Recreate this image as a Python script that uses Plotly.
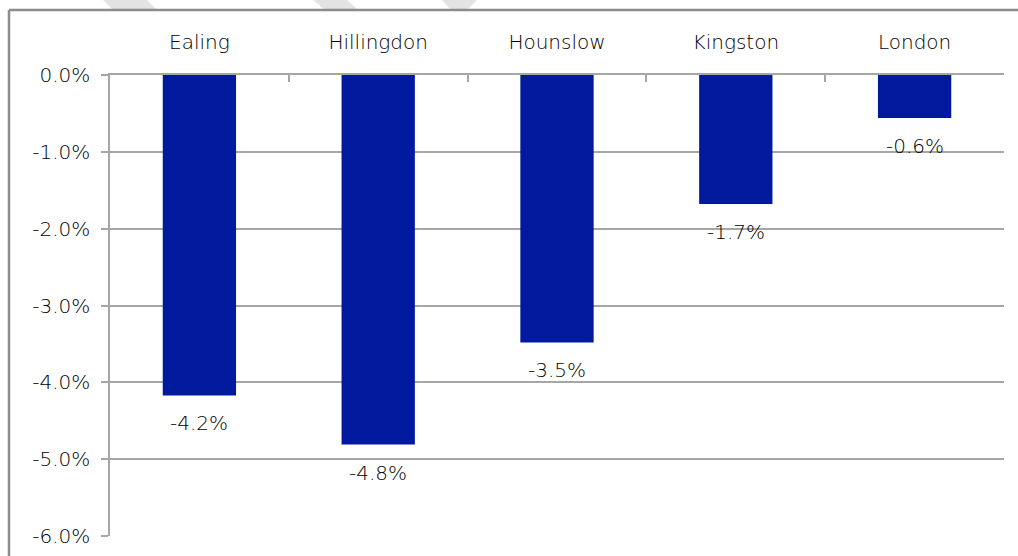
import plotly.graph_objects as go

categories = ["Ealing", "Hillingdon", "Hounslow", "Kingston", "London"]
values = [-4.17, -4.81, -3.48, -1.68, -0.56]
labels = ["-4.2%", "-4.8%", "-3.5%", "-1.7%", "-0.6%"]
y_ticks = [0, -1, -2, -3, -4, -5, -6]
y_tick_text = ["0.0%", "-1.0%", "-2.0%", "-3.0%", "-4.0%", "-5.0%", "-6.0%"]

W, H = 1018, 556
L, T = 110, 75
R = W - 1004
B = H - 536
PW, PH = W - L - R, H - T - B

def px(x):  # screen x -> paper
    return (x - L) / PW

def py(y):  # screen y -> paper
    return (H - B - y) / PH

FONT = "DejaVu Sans"
TXT = "#000000"
WT = 200

fig = go.Figure()
fig.add_trace(go.Bar(
    x=categories, y=values,
    marker=dict(color="#00199D", line=dict(width=0)),
    hoverinfo="skip",
))

for c, v, t in zip(categories, values, labels):
    fig.add_annotation(x=c, y=v, text=t, showarrow=False, yanchor="middle",
                       yshift=-28, font=dict(family=FONT, size=20, color=TXT, weight=WT))

shapes = []
for pts in [[(103, 0), (147, 0), (156, 9), (112, 9)],
            [(313, 0), (347, 0), (357, 9), (324, 9)],
            [(442, 0), (477, 0), (468, 9), (450, 9)]]:
    path = "M " + " L ".join(f"{px(a):.5f},{py(b):.5f}" for a, b in pts) + " Z"
    shapes.append(dict(type="path", xref="paper", yref="paper", path=path,
                       fillcolor="#e3e3e3", line=dict(width=0), layer="above"))
shapes.append(dict(type="line", xref="paper", yref="paper",
                   x0=px(9), x1=px(1030), y0=py(10), y1=py(10),
                   line=dict(color="#8c8c8c", width=2.5)))
shapes.append(dict(type="line", xref="paper", yref="paper",
                   x0=px(9), x1=px(9), y0=py(10), y1=py(570),
                   line=dict(color="#8c8c8c", width=2.5)))

fig.update_layout(
    width=W, height=H,
    margin=dict(l=L, r=R, t=T, b=B, pad=0, autoexpand=False),
    paper_bgcolor="white", plot_bgcolor="white",
    bargap=0.59,
    showlegend=False,
    shapes=shapes,
    font=dict(family=FONT, size=20, color=TXT, weight=WT),
    xaxis=dict(
        side="top", type="category", tickson="boundaries",
        ticks="inside", ticklen=7, tickcolor="#a6a6a6", tickwidth=1.5,
        showline=True, linecolor="#a6a6a6", linewidth=1.5,
        showgrid=False, zeroline=False, automargin=False,
        tickfont=dict(family=FONT, size=20, color=TXT, weight=WT),
        ticklabelstandoff=16,
    ),
    yaxis=dict(
        range=[-6, 0], tickvals=y_ticks, ticktext=y_tick_text,
        ticks="outside", ticklen=7, tickcolor="#a6a6a6", tickwidth=1.5,
        showline=True, linecolor="#a6a6a6", linewidth=1.5,
        showgrid=True, gridcolor="#a6a6a6", gridwidth=1.5,
        zeroline=False, automargin=False,
        tickfont=dict(family=FONT, size=20, color=TXT, weight=WT),
        ticklabelstandoff=7,
    ),
)

fig.write_html("out.html", config={"displayModeBar": False},
               post_script="document.body.style.margin='0';")
